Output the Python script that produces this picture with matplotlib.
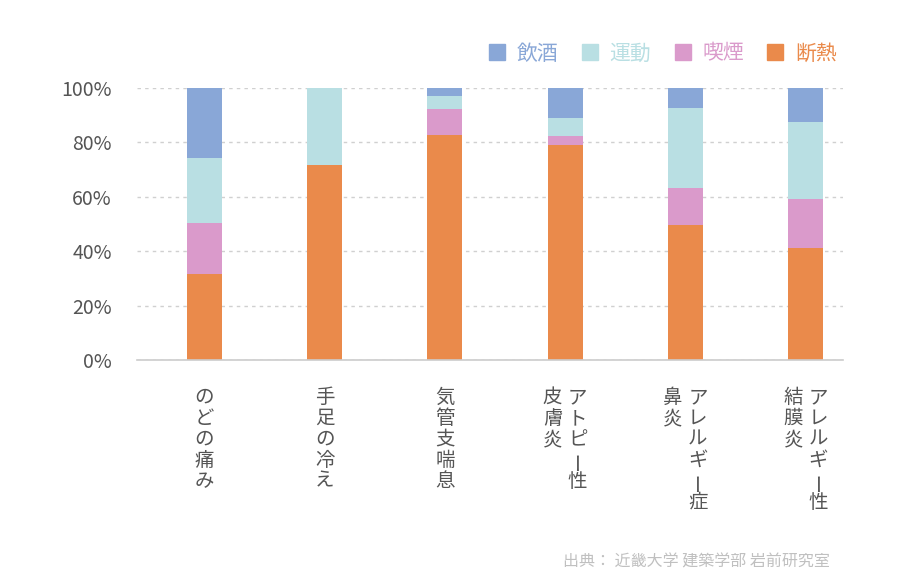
import matplotlib.pyplot as plt
from matplotlib.lines import Line2D
import numpy as np

plt.rcParams['font.family'] = ['Noto Sans CJK JP', 'DejaVu Sans']

# categories (each entry = columns of vertical text, right column first)
categories = [["のどの痛み"], ["手足の冷え"], ["気管支喘息"],
              ["アトピー性", "皮膚炎"], ["アレルギー症", "鼻炎"], ["アレルギー性", "結膜炎"]]

# percentages, bottom to top
dannetsu = [31.5, 71.7, 82.7, 78.9, 49.8, 41.2]   # 断熱
kitsuen = [19.0, 0.0, 9.6, 3.5, 13.3, 17.9]      # 喫煙
undou = [23.6, 28.3, 4.8, 6.4, 29.7, 28.5]       # 運動
inshu = [25.9, 0.0, 2.9, 11.2, 7.2, 12.4]        # 飲酒

series_names = ["断熱", "喫煙", "運動", "飲酒"]
legend_order = ["飲酒", "運動", "喫煙", "断熱"]
colors = {"断熱": "#EA8A4B", "喫煙": "#DA9ACB", "運動": "#B9DFE3", "飲酒": "#89A7D7"}
source = "出典： 近畿大学 建築学部 岩前研究室"

fig = plt.figure(figsize=(9.2, 5.84), dpi=100)
ax = fig.add_axes([0.1489, 0.3836, 0.7674, 0.4658])

x = np.arange(len(categories))
bottom = np.zeros(len(categories))
for name, vals in zip(series_names, [dannetsu, kitsuen, undou, inshu]):
    ax.bar(x, vals, width=0.29, bottom=bottom, color=colors[name], zorder=2)
    bottom += np.array(vals)

ax.set_xlim(-0.56, 5.31)
ax.set_ylim(0, 100)
ax.set_yticks([0, 20, 40, 60, 80, 100])
ax.set_yticklabels([f"{v}%" for v in [0, 20, 40, 60, 80, 100]])
ax.tick_params(axis='y', length=0, pad=18, labelsize=14, labelcolor='#555555')
ax.set_xticks([])
ax.grid(axis='y', linestyle=(0, (2.5, 3)), color='#d0d0d0', linewidth=1, zorder=0)
for s in ['left', 'right', 'top']:
    ax.spines[s].set_visible(False)
ax.spines['bottom'].set_color('#cccccc')
ax.spines['bottom'].set_linewidth(1.2)

# vertical x labels, one character at a time
pitch = 15.1
for i, cols in enumerate(categories):
    offsets = [0.0] if len(cols) == 1 else [9.0, -9.0]
    for col, dx in zip(cols, offsets):
        for k, ch in enumerate(col):
            ax.annotate(ch, xy=(i, 0), xycoords=('data', 'axes fraction'),
                        xytext=(dx, -27 - k * pitch), textcoords='offset points',
                        ha='center', va='center', fontsize=14, color='#555555',
                        rotation=90 if ch == 'ー' else 0)

handles = [Line2D([], [], marker='s', ls='', color=colors[n], markersize=12)
           for n in legend_order]
fig.legend(handles, legend_order, ncol=4, loc='center right',
           bbox_to_anchor=(0.93, 0.908), frameon=False, fontsize=15,
           handlelength=0.8, handletextpad=0.55, columnspacing=1.1,
           labelcolor=[colors[n] for n in legend_order])

fig.text(0.902, 0.038, source, ha='right', va='center', fontsize=11.5, color='#c0c0c0')

fig.savefig("out.png", dpi=100)
